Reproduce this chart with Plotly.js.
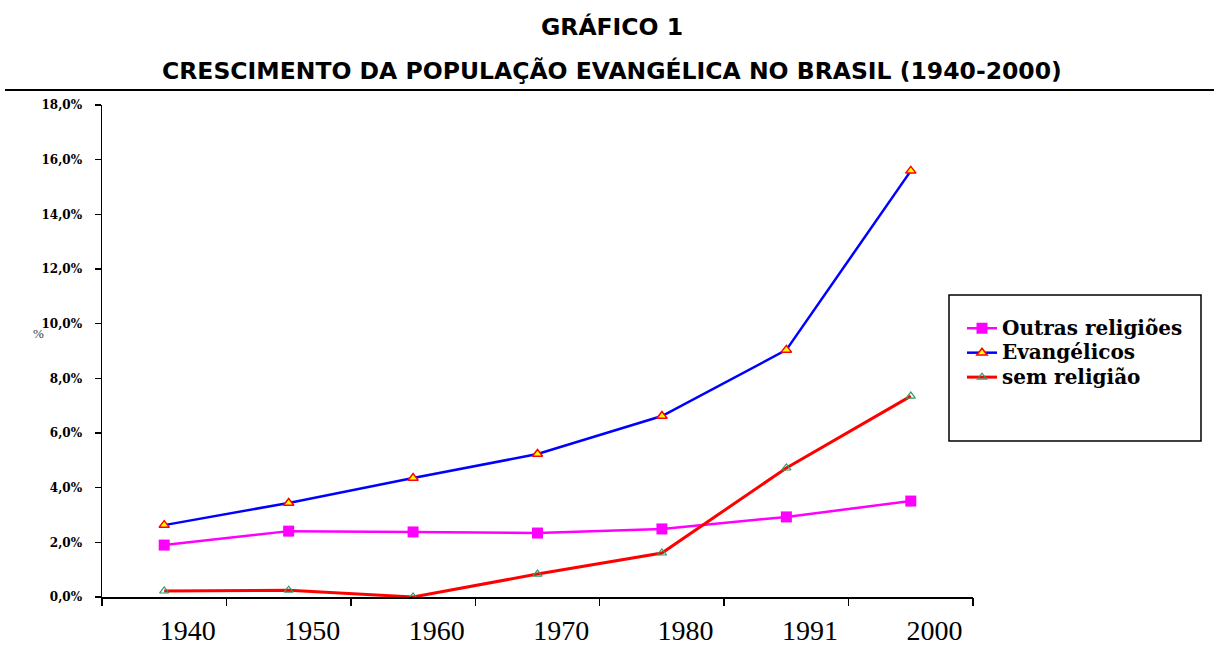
<!DOCTYPE html>
<html>
<head>
<meta charset="utf-8">
<script src="https://cdn.plot.ly/plotly-3.0.1.min.js"></script>
<style>
html,body{margin:0;padding:0;background:#fff;}
#chart{width:1223px;height:664px;}
</style>
</head>
<body>
<div id="chart"></div>
<script>
// ---- data ----
const years = ['1940', '1950', '1960', '1970', '1980', '1991', '2000'];
const outrasReligioes = [1.90, 2.41, 2.38, 2.34, 2.49, 2.93, 3.51];
const evangelicos = [2.63, 3.44, 4.35, 5.23, 6.62, 9.04, 15.59];
const semReligiao = [0.22, 0.25, 0.00, 0.84, 1.61, 4.72, 7.35];
const yTickValues = [0, 2, 4, 6, 8, 10, 12, 14, 16, 18];
const yTickLabels = ['0,0%', '2,0%', '4,0%', '6,0%', '8,0%', '10,0%', '12,0%', '14,0%', '16,0%', '18,0%'];
const seriesNames = ['Outras religiões', 'Evangélicos', 'sem religião'];

const idx = years.map((_, i) => i);
const labelPos = idx.map(i => i + 0.19);
const boundaries = [...idx.map(i => i - 0.5), years.length - 0.5];
const xRange = [-0.5, years.length - 0.5];
const legendName = n => '<span style="font-size:20px">' + n + '</span>';

const traces = [
  {
    x: idx, y: outrasReligioes, name: legendName(seriesNames[0]), type: 'scatter', mode: 'lines+markers',
    line: {color: '#ff00ff', width: 2.5},
    marker: {symbol: 'square', size: 11, color: '#ff00ff'}
  },
  {
    x: idx, y: evangelicos, name: legendName(seriesNames[1]), type: 'scatter', mode: 'lines+markers',
    line: {color: '#0000ff', width: 2.5},
    marker: {symbol: 'triangle-up', size: 9, color: '#ffff00', line: {color: '#ff0000', width: 1.5}}
  },
  {
    x: idx, y: semReligiao, name: legendName(seriesNames[2]), type: 'scatter', mode: 'lines+markers',
    line: {color: '#ff0000', width: 3},
    marker: {symbol: 'triangle-up-open', size: 8, color: '#339966', line: {width: 1.2}}
  },
  {
    x: boundaries, y: boundaries.map(() => null), xaxis: 'x2', yaxis: 'y',
    type: 'scatter', mode: 'markers', showlegend: false, hoverinfo: 'skip'
  }
];

const pw = 1223 - 102 - 250, ph = 664 - 105 - 67;
const px = v => (v - 102) / pw;
const py = v => (664 - 67 - v) / ph;

const layout = {
  width: 1223, height: 664,
  margin: {l: 102, r: 250, t: 105, b: 67},
  paper_bgcolor: '#fff', plot_bgcolor: '#fff',
  showlegend: true,
  legend: {
    x: px(962), y: py(311), xanchor: 'left', yanchor: 'top',
    bgcolor: 'rgba(0,0,0,0)', borderwidth: 0,
    font: {family: 'DejaVu Serif', size: 16.5, color: '#000', weight: 'bold'},
    itemwidth: 30, tracegroupgap: 0
  },
  xaxis: {
    range: xRange, tickmode: 'array', tickvals: labelPos, ticktext: years,
    ticks: '', showgrid: false, zeroline: false,
    showline: true, linecolor: '#000', linewidth: 1.5,
    tickfont: {family: 'Liberation Serif', size: 28, color: '#000'},
    ticklabelstandoff: 8
  },
  xaxis2: {
    range: xRange, overlaying: 'x', anchor: 'y', side: 'bottom',
    tickmode: 'array', tickvals: boundaries, ticks: 'outside', ticklen: 8,
    tickwidth: 1.5, tickcolor: '#000', showticklabels: false,
    showgrid: false, zeroline: false, showline: false
  },
  yaxis: {
    range: [0, 18], tickmode: 'array', tickvals: yTickValues, ticktext: yTickLabels,
    ticks: 'outside', ticklen: 6, tickwidth: 1.5, tickcolor: '#000',
    showgrid: false, zeroline: false,
    showline: true, linecolor: '#000', linewidth: 1.5,
    tickfont: {family: 'DejaVu Serif', size: 12, color: '#000', weight: 'bold'},
    ticklabelstandoff: 10
  },
  annotations: [
    {text: '<b>GRÁFICO 1</b>', xref: 'paper', yref: 'paper', x: px(612), y: py(27),
     xanchor: 'center', yanchor: 'middle', showarrow: false,
     font: {family: 'DejaVu Sans', size: 23.5, color: '#000'}},
    {text: '<b>CRESCIMENTO DA POPULAÇÃO EVANGÉLICA NO BRASIL (1940-2000)</b>', xref: 'paper', yref: 'paper',
     x: px(612), y: py(71), xanchor: 'center', yanchor: 'middle', showarrow: false,
     font: {family: 'DejaVu Sans', size: 23.5, color: '#000'}},
    {text: '%', xref: 'paper', yref: 'paper', x: px(38), y: py(333),
     xanchor: 'center', yanchor: 'middle', showarrow: false,
     font: {family: 'Liberation Serif', size: 13, color: '#333'}}
  ],
  shapes: [
    {type: 'line', xref: 'paper', yref: 'paper', x0: px(5), x1: px(1214), y0: py(90), y1: py(90),
     line: {color: '#000', width: 2}},
    {type: 'rect', xref: 'paper', yref: 'paper', x0: px(949), x1: px(1201), y0: py(441), y1: py(295),
     line: {color: '#000', width: 1.5}, fillcolor: 'rgba(0,0,0,0)'}
  ]
};

Plotly.newPlot('chart', traces, layout, {displayModeBar: false, staticPlot: true});
</script>
</body>
</html>
